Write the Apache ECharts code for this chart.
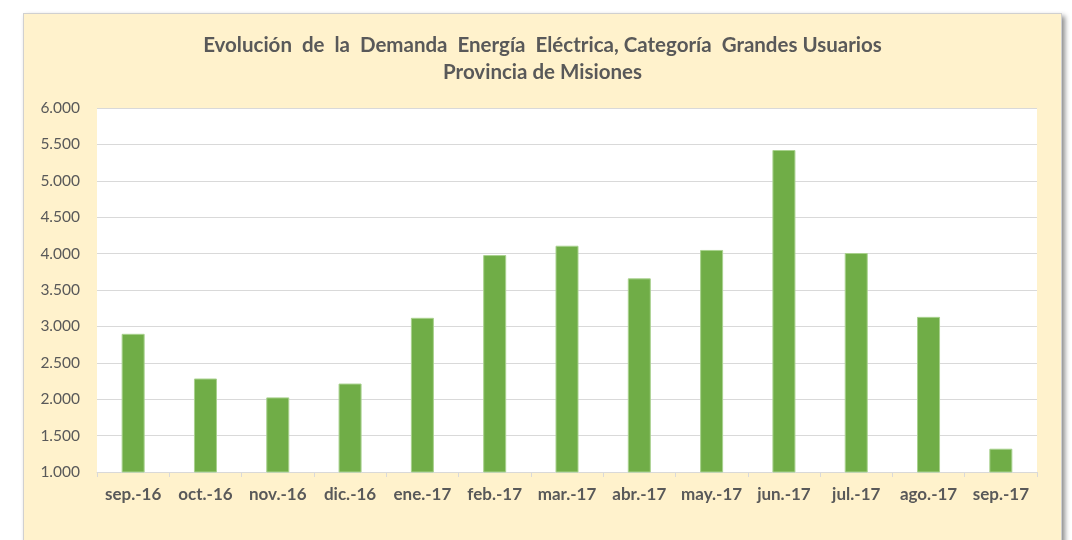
<!DOCTYPE html>
<html>
<head>
<meta charset="utf-8">
<script src="https://cdn.jsdelivr.net/npm/echarts@6/dist/echarts.min.js"></script>
<style>
    body { margin: 0; background: #fff; width: 1072px; height: 540px; overflow: hidden; }
    #box {
        position: absolute;
        left: 23px;
        top: 13px;
        width: 1037px;
        height: 540px;
        background: #fff2cc;
        border: 1px solid #d0d0d0;
        box-shadow: 3px 3px 5px rgba(0, 0, 0, 0.45);
    }
    #chart { width: 1037px; height: 527px; }
</style>
</head>
<body>
<div id="box"><div id="chart"></div></div>
<script>
    // meses
    var meses = ['sep.-16', 'oct.-16', 'nov.-16', 'dic.-16', 'ene.-17', 'feb.-17', 'mar.-17',
        'abr.-17', 'may.-17', 'jun.-17', 'jul.-17', 'ago.-17', 'sep.-17'];
    // demanda grandes usuarios
    var demanda = [2898, 2284, 2025, 2215, 3118, 3980, 4108, 3660, 4050, 5423, 4008, 3131, 1320];

    var fmt = function (v) {
        return String(v).replace(/\B(?=(\d{3})+(?!\d))/g, '.');
    };

    var chart = echarts.init(document.getElementById('chart'));
    chart.setOption({
        backgroundColor: 'transparent',
        textStyle: { fontFamily: 'Lato, "Open Sans", sans-serif' },
        title: {
            text: 'Evolución  de  la  Demanda  Energía  Eléctrica, Categoría  Grandes Usuarios\nProvincia de Misiones',
            left: 'center',
            top: 13,
            textStyle: {
                fontSize: 20.5,
                fontWeight: 'bold',
                color: '#595959',
                lineHeight: 27,
                align: 'center'
            }
        },
        grid: {
            left: 73,
            right: 24,
            top: 94,
            bottom: 69,
            show: true,
            backgroundColor: '#ffffff',
            borderWidth: 0
        },
        xAxis: {
            type: 'category',
            data: meses,
            axisLine: { lineStyle: { color: '#d9d9d9', width: 1 } },
            axisTick: { show: true, length: 5, lineStyle: { color: '#d9d9d9' } },
            axisLabel: { color: '#595959', fontSize: 17, fontWeight: 'bold', margin: 14, interval: 0 }
        },
        yAxis: {
            type: 'value',
            min: 1000,
            max: 6000,
            interval: 500,
            axisLine: { show: false },
            axisTick: { show: false },
            splitLine: { lineStyle: { color: '#d9d9d9', width: 1 } },
            axisLabel: { color: '#595959', fontSize: 15.5, margin: 17, formatter: fmt }
        },
        series: [{
            type: 'bar',
            data: demanda,
            barWidth: 23,
            itemStyle: { color: '#70ad47', borderColor: '#a9d18e', borderWidth: 1 }
        }]
    });
</script>
</body>
</html>
